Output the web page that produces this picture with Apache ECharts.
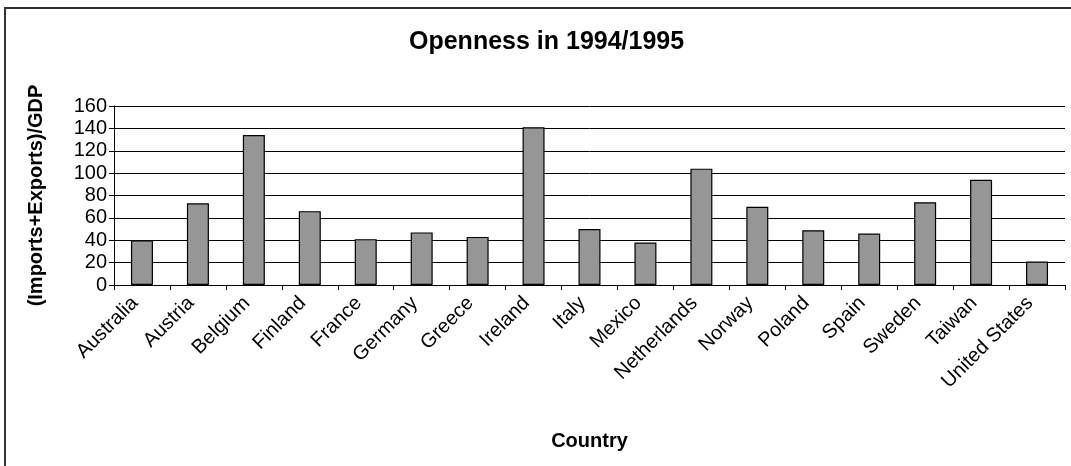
<!DOCTYPE html>
<html>
<head>
<meta charset="utf-8">
<script src="https://cdn.jsdelivr.net/npm/echarts@6/dist/echarts.min.js"></script>
<style>
  html, body { margin: 0; padding: 0; background: #fff; }
  #chart { width: 1071px; height: 466px; }
</style>
</head>
<body>
<div id="chart"></div>
<script>
// data
var countries = ["Australia", "Austria", "Belgium", "Finland", "France", "Germany", "Greece", "Ireland",
  "Italy", "Mexico", "Netherlands", "Norway", "Poland", "Spain", "Sweden", "Taiwan", "United States"];
var openness = [40, 73, 134, 66, 41, 47, 43, 141, 50, 38, 104, 70, 49, 46, 74, 94, 21];
var yTicks = [0, 20, 40, 60, 80, 100, 120, 140, 160];

var myChart = echarts.init(document.getElementById("chart"));
var font = "Liberation Sans, Arial, sans-serif";

var option = {
  animation: false,
  title: {
    text: "Openness in 1994/1995",
    left: 404,
    top: 25,
    textStyle: { fontFamily: font, fontSize: 25, fontWeight: "bold", color: "#000" }
  },
  graphic: [{
    type: "rect",
    shape: { x: 5, y: 8, width: 1100, height: 500 },
    style: { fill: "none", stroke: "#333", lineWidth: 2 },
    silent: true
  }],
  grid: { left: 114, right: 6, top: 106, bottom: 181 },
  xAxis: {
    type: "category",
    data: countries,
    name: "Country",
    nameLocation: "middle",
    nameGap: 146,
    nameTextStyle: { fontFamily: font, fontSize: 20, fontWeight: "bold", color: "#000" },
    axisLine: { lineStyle: { color: "#000", width: 1 } },
    axisTick: { show: true, length: 5, lineStyle: { color: "#000" } },
    axisLabel: { rotate: 45, interval: 0, margin: 8, padding: [0, 10, 0, 0], fontFamily: font, fontSize: 20, color: "#000" }
  },
  yAxis: {
    type: "value",
    min: yTicks[0],
    max: yTicks[yTicks.length - 1],
    interval: 20,
    name: "(Imports+Exports)/GDP",
    nameLocation: "middle",
    nameGap: 68,
    nameTextStyle: { fontFamily: font, fontSize: 20, fontWeight: "bold", color: "#000" },
    axisLine: { show: true, lineStyle: { color: "#000", width: 1 } },
    axisTick: { show: true, length: 5, lineStyle: { color: "#000" } },
    axisLabel: { margin: 7, fontFamily: font, fontSize: 20, color: "#000" },
    splitLine: { show: true, lineStyle: { color: "#000", width: 1 } }
  },
  series: [{
    type: "bar",
    data: openness,
    barWidth: 22,
    itemStyle: { color: "#969696", borderColor: "#000", borderWidth: 1.2 }
  }]
};

myChart.setOption(option);
</script>
</body>
</html>
